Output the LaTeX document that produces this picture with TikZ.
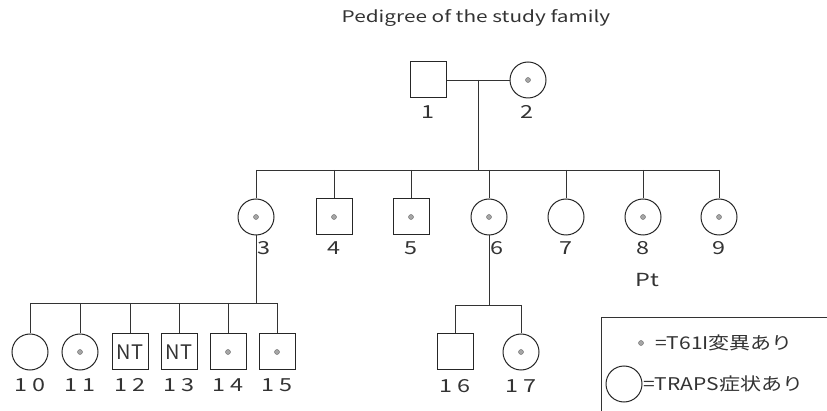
\documentclass[tikz,border=0pt]{standalone}
\usepackage{fontspec}
\setmainfont{Noto Sans CJK JP}
\newfontfamily\widefont[FakeStretch=1.2]{Noto Sans CJK JP}
\newfontfamily\titlefont[FakeStretch=1.3]{Noto Sans CJK JP}
\newfontfamily\numfont[FakeStretch=1.3]{Noto Sans CJK JP}
% two-digit individual numbers, set with a wider gap between the digits
\newcommand\twodig[2]{#1\kern5pt#2}
\begin{document}
\begin{tikzpicture}[x=1pt,y=-1pt,
  line/.style={draw=black!80, line width=0.9pt},
  male/.style={rectangle, draw=black!85, line width=1pt, minimum size=36pt, inner sep=0pt,
    font=\fontsize{20}{20}\selectfont, text=black!80},
  female/.style={circle, draw=black!85, line width=1pt, minimum size=36pt, inner sep=0pt},
  carrier/.style={circle, fill=black!35, draw=black!60, line width=0.4pt, minimum size=5pt, inner sep=0pt},
  lbl/.style={font=\numfont\fontsize{18}{18}\selectfont, text=black!80, inner sep=0pt},
  legtext/.style={font=\widefont\fontsize{17.5}{17.5}\selectfont, text=black!80, inner sep=0pt, anchor=west}]
\useasboundingbox (0,0) rectangle (827,411);

% title
\node[font=\titlefont\fontsize{16}{16}\selectfont, text=black!80] (title) at (476,18) {Pedigree of the study family};

% generation I
\node[male] (n1) at (428,80) {};
\node[female] (n2) at (528,80) {};
\node[carrier] (d2) at (n2) {};
\node[lbl] (l1) at (428,112) {1};
\node[lbl] (l2) at (527,112) {2};
\coordinate (m) at (478,80);
\coordinate (s2) at (478,170);
\draw[line] (n1.east) -- (n2.west);
\draw[line] (m) -- (s2);

% generation II
\node[female] (n3) at (256,217) {};
\node[male]   (n4) at (334,217) {};
\node[male]   (n5) at (411,217) {};
\node[female] (n6) at (489,217) {};
\node[female] (n7) at (566,217) {};
\node[female] (n8) at (643,217) {};
\node[female] (n9) at (719,217) {};
\foreach \i in {3,4,5,6,8,9} \node[carrier] (d\i) at (n\i) {};
\draw[line] (n3.north |- s2) -- (n9.north |- s2);
\foreach \i in {3,...,9} \draw[line] (n\i.north |- s2) -- (n\i.north);
\node[lbl] (l3) at (264,248) {3};
\node[lbl] (l4) at (334,248) {4};
\node[lbl] (l5) at (411,248) {5};
\node[lbl] (l6) at (497,248) {6};
\node[lbl] (l7) at (566,248) {7};
\node[lbl] (l8) at (643,248) {8};
\node[lbl] (l9) at (719,248) {9};
\node[lbl] (pt) at (647,280) {Pt};

% generation III, children of 3
\coordinate (s3) at (256,303);
\node[female] (n10) at (30,352) {};
\node[female] (n11) at (80,352) {};
\node[male]   (n12) at (130,352) {NT};
\node[male]   (n13) at (179,352) {NT};
\node[male]   (n14) at (228,352) {};
\node[male]   (n15) at (277,352) {};
\foreach \i in {11,14,15} \node[carrier] (d\i) at (n\i) {};
\draw[line] (n3.south) -- (s3);
\draw[line] (n10.north |- s3) -- (n15.north |- s3);
\foreach \i in {10,...,15} \draw[line] (n\i.north |- s3) -- (n\i.north);
\node[lbl] (l10) at (30,385)  {\twodig10};
\node[lbl] (l11) at (80,385)  {\twodig11};
\node[lbl] (l12) at (130,385) {\twodig12};
\node[lbl] (l13) at (179,385) {\twodig13};
\node[lbl] (l14) at (228,385) {\twodig14};
\node[lbl] (l15) at (277,385) {\twodig15};

% generation III, children of 6
\coordinate (s6) at (489,305);
\node[male]   (n16) at (455,352) {};
\node[female] (n17) at (521,352) {};
\node[carrier] (d17) at (n17) {};
\draw[line] (n6.south) -- (s6);
\draw[line] (n16.north |- s6) -- (n17.north |- s6);
\foreach \i in {16,17} \draw[line] (n\i.north |- s6) -- (n\i.north);
\node[lbl] (l16) at (455,386) {\twodig16};
\node[lbl] (l17) at (521,386) {\twodig17};

% legend
\coordinate (la) at (601,411);
\coordinate (lb) at (601,317);
\coordinate (lc) at (827,317);
\draw[line] (la) -- (lb) -- (lc);
\node[carrier] (ldot) at (641,343) {};
\node[legtext] (lt1) at (655,343) {=T61I変異あり};
\node[female] (lcirc) at (624,384) {};
\node[legtext] (lt2) at (643,384) {=TRAPS症状あり};
\end{tikzpicture}
\end{document}
